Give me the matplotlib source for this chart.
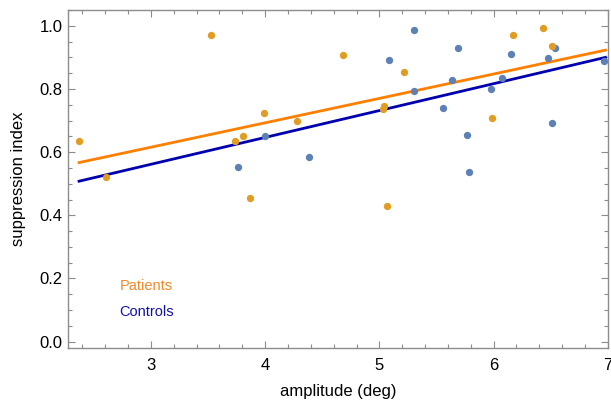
import matplotlib
matplotlib.use("Agg")
import matplotlib.pyplot as plt
from matplotlib.ticker import MultipleLocator

plt.rcParams["font.family"] = ["Liberation Sans", "DejaVu Sans"]

# patients (orange points)
patients_x = [2.37, 2.606, 3.525, 3.732, 3.805, 3.866, 3.986, 4.280, 4.682,
              5.030, 5.045, 5.067, 5.219, 5.989, 6.167, 6.435, 6.508]
patients_y = [0.634, 0.520, 0.972, 0.634, 0.650, 0.456, 0.725, 0.698, 0.908,
              0.738, 0.745, 0.429, 0.854, 0.708, 0.972, 0.993, 0.935]

# controls (blue points)
controls_x = [3.764, 4.000, 4.385, 5.085, 5.307, 5.307, 5.557, 5.633, 5.691,
              5.764, 5.782, 5.974, 6.077, 6.152, 6.479, 6.508, 6.540, 6.969]
controls_y = [0.553, 0.650, 0.585, 0.891, 0.988, 0.795, 0.741, 0.828, 0.929,
              0.654, 0.536, 0.800, 0.834, 0.912, 0.897, 0.693, 0.929, 0.887]

# regression line end points
fit_x = [2.37, 6.98]
patients_fit = [0.567, 0.923]
controls_fit = [0.508, 0.900]

fig = plt.figure(figsize=(6.11, 4.05), dpi=100)
ax = fig.add_axes([0.1118, 0.140, 0.9946 - 0.1118, 0.9753 - 0.140])

ax.plot(fit_x, patients_fit, color="#FF8000", linewidth=2.0, zorder=2)
ax.plot(fit_x, controls_fit, color="#0000B0", linewidth=2.0, zorder=2)

ax.scatter(controls_x, controls_y, s=28, color="#5E81B5", linewidths=0, zorder=3)
ax.scatter(patients_x, patients_y, s=28, color="#E19C24", linewidths=0, zorder=3)

ax.set_xlim(2.276, 7.0)
ax.set_ylim(-0.021, 1.05)

ax.xaxis.set_major_locator(MultipleLocator(1))
ax.xaxis.set_minor_locator(MultipleLocator(0.2))
ax.yaxis.set_major_locator(MultipleLocator(0.2))
ax.yaxis.set_minor_locator(MultipleLocator(0.05))
ax.yaxis.set_major_formatter(lambda v, p: f"{v:.1f}")

frame = "#8c8c8c"
for s in ax.spines.values():
    s.set_color(frame)
    s.set_linewidth(1.0)

ax.tick_params(which="both", direction="in", colors=frame, labelcolor="black",
               top=True, right=True, labelsize=12)
ax.tick_params(which="major", length=5, width=0.8)
ax.tick_params(which="minor", length=3, width=0.8)
ax.tick_params(axis="x", which="major", pad=7)
ax.tick_params(axis="y", which="major", pad=4)

ax.set_xlabel("amplitude (deg)", fontsize=12, labelpad=8)
ax.set_ylabel("suppression index", fontsize=12, labelpad=10)

ax.text(2.73, 0.175, "Patients", color="#F08A2C", fontsize=10.5, va="center")
ax.text(2.72, 0.095, "Controls", color="#1010AA", fontsize=10.5, va="center")

fig.savefig("out.png", dpi=100)
